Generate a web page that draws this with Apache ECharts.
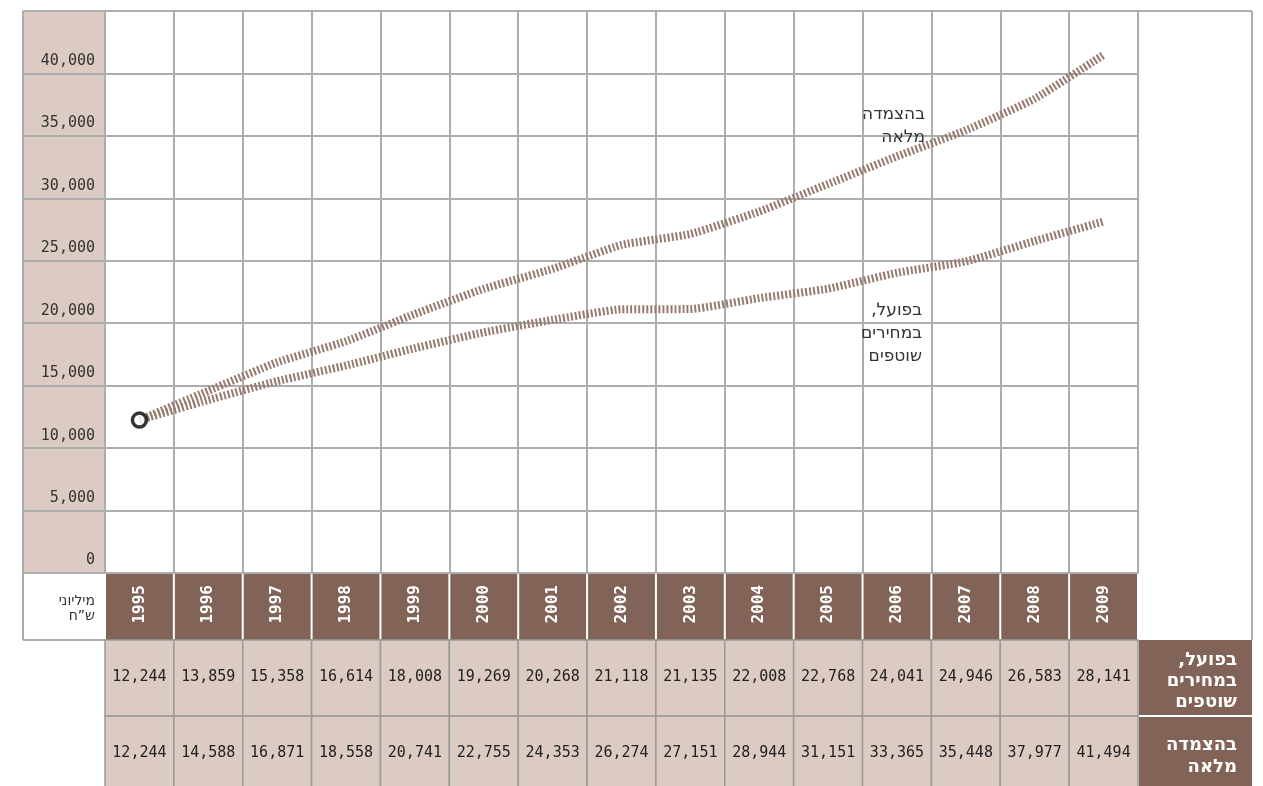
<!DOCTYPE html>
<html>
<head>
<meta charset="utf-8">
<script src="https://cdn.jsdelivr.net/npm/echarts@6/dist/echarts.min.js"></script>
<style>
  html, body { margin: 0; padding: 0; background: #fff; }
  #main { width: 1263px; height: 786px; }
</style>
</head>
<body>
<div id="main"></div>
<script>
// data
const years = ['1995', '1996', '1997', '1998', '1999', '2000', '2001', '2002',
  '2003', '2004', '2005', '2006', '2007', '2008', '2009'];
const actual = [12244, 13859, 15358, 16614, 18008, 19269, 20268, 21118,
  21135, 22008, 22768, 24041, 24946, 26583, 28141];
const full = [12244, 14588, 16871, 18558, 20741, 22755, 24353, 26274,
  27151, 28944, 31151, 33365, 35448, 37977, 41494];
const actualName = ['בפועל,\u200F', 'במחירים', 'שוטפים'];
const fullName = ['בהצמדה', 'מלאה'];
const unitName = ['מיליוני', 'ש”ח'];

const BEIGE = '#dccbc3';
const BROWN = '#826357';
const GRID = '#adadad';
const HATCH = '#977b71';
const MONO = '"DejaVu Sans Mono", monospace';
const HEB = '"DejaVu Sans", "Noto Sans", sans-serif';

const fmt = v => v.toLocaleString('en-US');

const chart = echarts.init(document.getElementById('main'));

const hatched = {
  type: 'line',
  symbol: 'none',
  smooth: 0.15,
  silent: true,
  lineStyle: { color: HATCH, width: 8, type: [2, 2], cap: 'butt' },
  z: 3
};

chart.setOption({
  animation: false,
  grid: { left: 105, right: 125, top: 11, bottom: 213 },
  xAxis: {
    type: 'category',
    data: years,
    boundaryGap: true,
    axisLine: { lineStyle: { color: GRID, width: 2 } },
    axisTick: { show: false },
    splitLine: { show: true, interval: 0, lineStyle: { color: GRID, width: 2 } },
    axisLabel: {
      interval: 0, rotate: 90, margin: 12,
      color: '#fff', fontWeight: 'bold', fontFamily: MONO, fontSize: 16
    }
  },
  yAxis: {
    type: 'value',
    min: 0, max: 45000, interval: 5000,
    axisLine: { show: true, lineStyle: { color: GRID, width: 2 } },
    axisTick: { show: true, length: 82, lineStyle: { color: GRID, width: 2 } },
    splitLine: { lineStyle: { color: GRID, width: 2 } },
    axisLabel: {
      margin: 10,
      verticalAlign: 'bottom',
      padding: [0, 0, 5, 0],
      color: '#333', fontFamily: MONO, fontSize: 15,
      formatter: v => (v === 45000 ? '' : fmt(v))
    }
  },
  series: [
    Object.assign({ name: 'actual', data: actual }, hatched),
    Object.assign({ name: 'full', data: full }, hatched),
    {
      type: 'scatter',
      data: [[0, actual[0]]],
      symbol: 'circle', symbolSize: 14,
      itemStyle: { color: '#fff', borderColor: '#000', borderWidth: 3.5 },
      silent: true,
      z: 5
    }
  ]
});

// table, header and frame around the plot
const cx = i => chart.convertToPixel({ xAxisIndex: 0 }, i);
const cy = v => chart.convertToPixel({ yAxisIndex: 0 }, v);
const colW = cx(1) - cx(0);
const plotL = cx(0) - colW / 2;
const plotR = cx(years.length - 1) + colW / 2;
const yTop = cy(45000);
const y0 = cy(0);
const outL = 23, outR = 1252;
const headH = 67, rowH = 76;
const rowY = [y0 + headH, y0 + headH + rowH];

const g = [];
const line = (x1, y1, x2, y2, z) => g.push({
  type: 'line', z: z || 1, silent: true,
  shape: { x1, y1, x2, y2 },
  style: { stroke: GRID, lineWidth: 2 }
});
const text = (t, x, y, font, fill, align, z) => g.push({
  type: 'text', z: z || 6, silent: true,
  style: { text: t, x, y, font, fill, textAlign: align || 'center', textVerticalAlign: 'middle' }
});

// beige column behind the y labels
g.push({ type: 'rect', z: -5, silent: true,
  shape: { x: outL, y: yTop, width: plotL - outL, height: y0 - yTop },
  style: { fill: BEIGE } });

// frame
line(outL, yTop, outL, y0 + headH);
line(plotR, yTop, outR, yTop);
line(outR, yTop, outR, y0 + headH);
line(plotR, yTop, plotR, y0);
line(outL, y0 + headH, plotL, y0 + headH);

// header row
years.forEach((y, i) => {
  g.push({ type: 'rect', z: -1, silent: true,
    shape: { x: cx(i) - colW / 2 + 1, y: y0 + 1, width: colW - 2, height: headH - 1 },
    style: { fill: BROWN } });
});
text(unitName[0], plotL - 10, y0 + 28, '14px ' + HEB, '#333', 'right');
text(unitName[1], plotL - 10, y0 + 43, '14px ' + HEB, '#333', 'right');

// value rows
[actual, full].forEach((arr, r) => {
  arr.forEach((v, i) => {
    g.push({ type: 'rect', z: 1, silent: true,
      shape: { x: cx(i) - colW / 2, y: rowY[r], width: colW, height: rowH },
      style: { fill: BEIGE, stroke: '#9a9a9a', lineWidth: 1.5 } });
    text(fmt(v), cx(i), rowY[r] + rowH / 2 - 1, '15px ' + MONO, '#222');
  });
  g.push({ type: 'rect', z: 1, silent: true,
    shape: { x: plotR + 1, y: rowY[r] + (r ? 1 : 0), width: outR - plotR - 1, height: rowH - 1 },
    style: { fill: BROWN } });
});
actualName.forEach((t, k) => text(t, outR - 15, rowY[0] + 20 + k * 21, 'bold 18px ' + HEB, '#fff', 'right'));
fullName.forEach((t, k) => text(t, outR - 15, rowY[1] + 29 + k * 22, 'bold 18px ' + HEB, '#fff', 'right'));

// series names inside the plot
fullName.forEach((t, k) => text(t, 925, 115 + k * 23, '17px ' + HEB, '#333', 'right'));
actualName.forEach((t, k) => text(t, 922, 311 + k * 23, '17px ' + HEB, '#333', 'right'));

chart.setOption({ graphic: { elements: g } });
</script>
</body>
</html>
